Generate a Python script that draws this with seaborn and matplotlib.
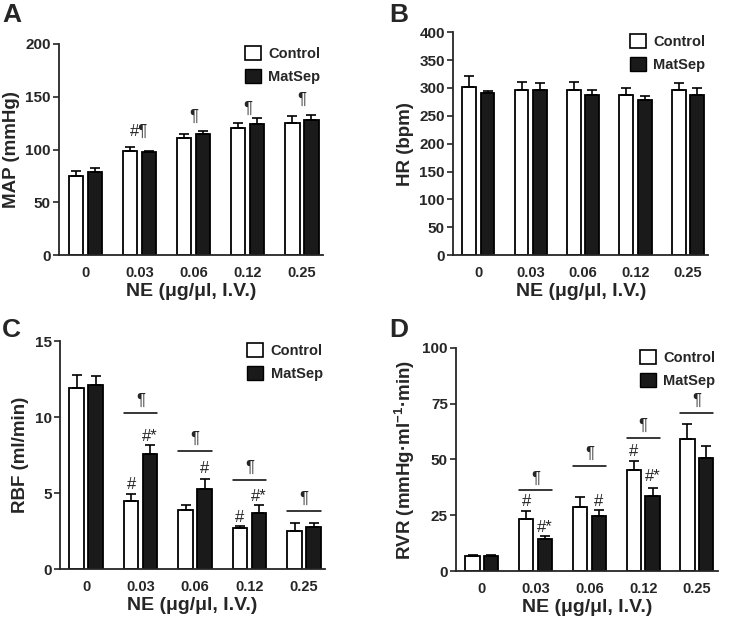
import matplotlib
matplotlib.use("Agg")
import matplotlib.pyplot as plt
import seaborn as sns
import pandas as pd
import numpy as np
from matplotlib.patches import Patch

doses = ["0", "0.03", "0.06", "0.12", "0.25"]
groups = ["Control", "MatSep"]

# MAP (mmHg)
map_ctrl = [75, 98.5, 111, 120.5, 125.5]
map_ctrl_sem = [5, 4, 4, 5, 6]
map_mat = [79, 98, 114.5, 124, 128]
map_mat_sem = [3.5, 1, 3, 6, 5]

# HR (bpm)
hr_ctrl = [302, 296, 296, 287, 297]
hr_ctrl_sem = [19, 14, 14, 12, 12]
hr_mat = [291, 297, 288, 279, 287]
hr_mat_sem = [4, 11, 8, 6, 13]

# RBF (ml/min)
rbf_ctrl = [11.9, 4.5, 3.9, 2.7, 2.5]
rbf_ctrl_sem = [0.85, 0.45, 0.3, 0.15, 0.55]
rbf_mat = [12.1, 7.55, 5.25, 3.72, 2.76]
rbf_mat_sem = [0.6, 0.65, 0.7, 0.53, 0.3]

# RVR
rvr_ctrl = [6.8, 23.5, 28.7, 45.4, 59.3]
rvr_ctrl_sem = [0.3, 3.4, 4.5, 3.9, 6.7]
rvr_mat = [6.8, 14.5, 24.7, 33.6, 50.5]
rvr_mat_sem = [0.3, 1.2, 2.8, 3.6, 5.5]

# significance marks: (dose index, which bar or 'grp', y, text)
map_marks = [(1, "grp", 117, "#¶"), (2, "grp", 131, "¶"), (3, "grp", 139, "¶"), (4, "grp", 147, "¶")]
rbf_marks = [(1, "c", 5.6, "#"), (1, "m", 8.7, "#*"), (2, "m", 6.6, "#"),
             (3, "c", 3.4, "#"), (3, "m", 4.8, "#*")]
rbf_lines = [(1, 10.3), (2, 7.8), (3, 5.86), (4, 3.85)]
rvr_marks = [(1, "c", 31, "#"), (1, "m", 19.7, "#*"), (2, "m", 31, "#"),
             (3, "c", 53.8, "#"), (3, "m", 42.5, "#*")]
rvr_lines = [(1, 36.2), (2, 47), (3, 59.8), (4, 71)]

sns.set_style("ticks")
plt.rcParams["font.family"] = ["Liberation Sans", "DejaVu Sans"]
plt.rcParams["font.weight"] = "bold"
plt.rcParams["mathtext.fontset"] = "custom"
plt.rcParams["mathtext.bf"] = "Liberation Sans:bold"
plt.rcParams["mathtext.rm"] = "Liberation Sans:bold"

fig = plt.figure(figsize=(7.31, 6.18), dpi=100)


def panel(rect, ctrl, csem, mat, msem, ylim, yticks, ylabel, letter, letter_xy):
    ax = fig.add_axes(rect)
    df = pd.DataFrame({
        "dose": doses * 2,
        "group": ["Control"] * 5 + ["MatSep"] * 5,
        "value": list(ctrl) + list(mat),
    })
    sns.barplot(data=df, x="dose", y="value", hue="group", order=doses,
                hue_order=groups, palette={"Control": "white", "MatSep": "#1a1a1a"},
                edgecolor="black", linewidth=1.3, width=0.7, gap=0.25,
                errorbar=None, legend=False, ax=ax)
    xs = {}
    for i, g in enumerate(groups):
        bars = ax.containers[i]
        xc = [b.get_x() + b.get_width() / 2 for b in bars]
        xs[g] = xc
        vals = ctrl if g == "Control" else mat
        sem = csem if g == "Control" else msem
        ax.errorbar(xc, vals, yerr=[np.zeros(5), sem], fmt="none", ecolor="black",
                    elinewidth=1.2, capsize=3.5, capthick=1.2, zorder=1)
    ax.set_ylim(*ylim)
    ax.set_yticks(yticks)
    ax.set_xlim(-0.48, 4.39)
    ax.tick_params(axis="x", length=0, labelsize=10.5, pad=8)
    ax.tick_params(axis="y", length=4, width=1.2, labelsize=11, pad=2)
    for lab in ax.get_xticklabels() + ax.get_yticklabels():
        lab.set_fontweight("bold")
    ax.set_xlabel("NE (μg/μl, I.V.)", fontsize=14, fontweight="bold", labelpad=2)
    ax.set_ylabel(ylabel, fontsize=13.5, fontweight="bold")
    for s in ["top", "right"]:
        ax.spines[s].set_visible(False)
    for s in ["left", "bottom"]:
        ax.spines[s].set_linewidth(1.3)
    handles = [Patch(facecolor="white", edgecolor="black", linewidth=1.2, label="Control"),
               Patch(facecolor="#1a1a1a", edgecolor="black", label="MatSep")]
    ax.legend(handles=handles, loc="upper right", bbox_to_anchor=(1.04, 1.05), frameon=False,
              prop={"weight": "bold", "size": 10.5}, handlelength=1.1, handleheight=1.1,
              handletextpad=0.5, labelspacing=0.55)
    fig.text(letter_xy[0], letter_xy[1], letter, fontsize=19, fontweight="bold",
             va="top", ha="left")
    return ax, xs


def marks(ax, xs, items):
    for i, which, y, txt in items:
        if which == "grp":
            x = (xs["Control"][i] + xs["MatSep"][i]) / 2
        elif which == "c":
            x = xs["Control"][i]
        else:
            x = xs["MatSep"][i]
        ax.text(x, y, txt, ha="center", va="center", fontsize=12, fontweight="normal")


def lines(ax, xs, items, span):
    for i, y in items:
        x0 = xs["Control"][i] - 0.13
        x1 = xs["MatSep"][i] + 0.13
        ax.plot([x0, x1], [y, y], color="black", lw=1.1)
        ax.text((x0 + x1) / 2, y + span * 0.055, "¶", ha="center", va="center",
                fontsize=12, fontweight="normal")


axA, xsA = panel([0.081, 0.587, 0.361, 0.342], map_ctrl, map_ctrl_sem, map_mat, map_mat_sem,
                 (0, 200), [0, 50, 100, 150, 200], "MAP (mmHg)", "A", (0.003, 0.995))
marks(axA, xsA, map_marks)

axB, xsB = panel([0.620, 0.587, 0.349, 0.361], hr_ctrl, hr_ctrl_sem, hr_mat, hr_mat_sem,
                 (0, 400), list(range(0, 401, 50)), "HR (bpm)", "B", (0.533, 0.995))

axC, xsC = panel([0.082, 0.079, 0.363, 0.369], rbf_ctrl, rbf_ctrl_sem, rbf_mat, rbf_mat_sem,
                 (0, 15), [0, 5, 10, 15], "RBF (ml/min)", "C", (0.003, 0.485))
marks(axC, xsC, rbf_marks)
lines(axC, xsC, rbf_lines, 15)

axD, xsD = panel([0.624, 0.076, 0.358, 0.361], rvr_ctrl, rvr_ctrl_sem, rvr_mat, rvr_mat_sem,
                 (0, 100), [0, 25, 50, 75, 100],
                 r"RVR (mmHg·ml$^{\mathbf{-1}}$·min)", "D", (0.533, 0.485))
marks(axD, xsD, rvr_marks)
lines(axD, xsD, rvr_lines, 100)

fig.savefig("out.png", dpi=100, facecolor="white")
